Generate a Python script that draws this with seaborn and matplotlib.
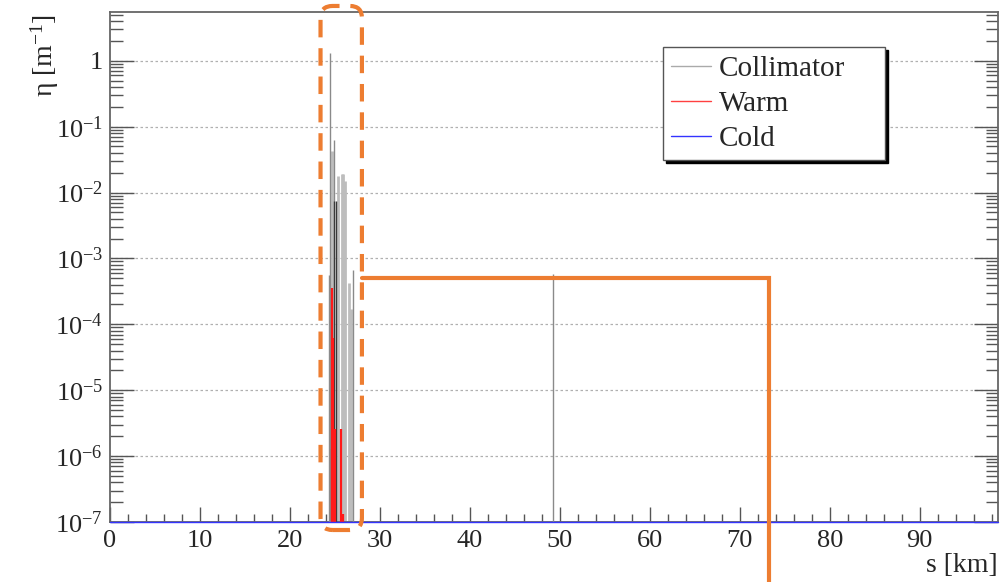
import numpy as np
import pandas as pd
import matplotlib
matplotlib.use("Agg")
import matplotlib.pyplot as plt
import seaborn as sns
from matplotlib.patches import FancyBboxPatch
from matplotlib.lines import Line2D
from matplotlib.ticker import FixedLocator, LogLocator, MultipleLocator, NullFormatter, FixedFormatter
from matplotlib.transforms import IdentityTransform

# ---------------- data ----------------
coll_light_s = [24.62, 25.39, 25.80, 25.95, 26.10, 26.53, 26.80]
coll_light_eta = [0.042, 0.018, 0.019, 0.019, 0.0148, 4.3e-4, 1.7e-4]
coll_mid_s = [24.37, 24.48, 24.92, 27.03, 49.26]
coll_mid_eta = [5.6e-4, 1.3, 0.062, 6.6e-4, 5.8e-4]
coll_dark_s = [24.95, 25.08]
coll_dark_eta = [0.0074, 0.0074]
warm_s = [24.65, 24.70, 24.75, 25.05, 25.70, 25.91]
warm_eta = [3.6e-4, 1.3e-6, 6.3e-5, 2.6e-6, 2.6e-6, 1.3e-7]
cold_s = [0.0, 98.7]
cold_eta = [1e-7, 1e-7]

x_ticks = [0, 10, 20, 30, 40, 50, 60, 70, 80, 90]
x_tick_labels = ["0", "10", "20", "30", "40", "50", "60", "70", "80", "90"]
y_ticks = [1e-7, 1e-6, 1e-5, 1e-4, 1e-3, 1e-2, 1e-1, 1]
y_tick_labels = ["10$^{-7}$", "10$^{-6}$", "10$^{-5}$", "10$^{-4}$",
                 "10$^{-3}$", "10$^{-2}$", "10$^{-1}$", "1"]
legend_labels = ["Collimator", "Warm", "Cold"]

# highlight annotation (km, eta)
hl_box_s = (23.4, 28.0)
hl_path_s = [28.0, 73.3, 73.3]
hl_path_eta = [5.0e-4, 5.0e-4, 1e-8]

# ---------------- style ----------------
sns.set_theme(style="ticks")
plt.rcParams["font.family"] = ["Liberation Serif", "DejaVu Serif"]
plt.rcParams["mathtext.fontset"] = "custom"
plt.rcParams["mathtext.rm"] = "Liberation Serif"
plt.rcParams["mathtext.it"] = "Liberation Serif:italic"
plt.rcParams["mathtext.bf"] = "Liberation Serif:bold"

ORANGE = "#ED7D31"

fig = plt.figure(figsize=(10, 5.82), dpi=100)
fig.patch.set_facecolor("white")
ax = fig.add_axes([0.110, 0.1031, 0.888, 0.8763])
ax.set_facecolor("white")
ax.set_yscale("log")
ax.set_xlim(0, 98.7)
ax.set_ylim(1e-7, 5.5)

# grid
ax.yaxis.grid(True, which="major", color="#b0b0b0", linestyle=(0, (2, 2)), linewidth=0.9)
ax.xaxis.grid(False)
ax.set_axisbelow(True)

# spikes
ax.vlines(coll_light_s, 1e-7, coll_light_eta, colors="#bdbdbd", linewidth=2.0, zorder=2)
ax.vlines(coll_mid_s, 1e-7, coll_mid_eta, colors="#8a8a8a", linewidth=1.0, zorder=3)
ax.vlines(coll_dark_s, 1e-7, coll_dark_eta, colors="#3a3a3a", linewidth=1.0, zorder=3)
ax.vlines(warm_s, 1e-7, warm_eta, colors="#ff1a1a", linewidth=1.6, zorder=4)

sns.lineplot(x=cold_s, y=cold_eta, color="#3333ff", linewidth=1.0, ax=ax,
             legend=False, zorder=5, clip_on=False)

# ticks
ax.xaxis.set_major_locator(FixedLocator(x_ticks))
ax.xaxis.set_major_formatter(FixedFormatter(x_tick_labels))
ax.xaxis.set_minor_locator(MultipleLocator(2))
ax.yaxis.set_major_locator(FixedLocator(y_ticks))
ax.yaxis.set_major_formatter(FixedFormatter(y_tick_labels))
ax.yaxis.set_minor_locator(LogLocator(base=10, subs=np.arange(2, 10), numticks=20))
ax.yaxis.set_minor_formatter(NullFormatter())

ax.tick_params(axis="x", which="major", direction="in", length=11, width=1,
               color="#555555", labelsize=19, pad=6, top=False, bottom=True)
ax.tick_params(axis="x", which="minor", direction="in", length=5.5, width=1,
               color="#555555", top=False, bottom=True)
ax.tick_params(axis="y", which="major", direction="in", length=17, width=1,
               color="#555555", labelsize=19, pad=5, left=True, right=True)
ax.tick_params(axis="y", which="minor", direction="in", length=9, width=1,
               color="#555555", left=True, right=True)

for side in ["left", "right", "top", "bottom"]:
    ax.spines[side].set_color("#666666")
    ax.spines[side].set_linewidth(1.3)

# legend
handles = [Line2D([], [], color="#aaaaaa", lw=1),
           Line2D([], [], color="#ff4040", lw=1),
           Line2D([], [], color="#3333ff", lw=1)]
leg_w = 222 / 888
leg_h = 108 / 510
leg = ax.legend(handles, legend_labels, loc="upper left",
                bbox_to_anchor=(0.6228, 0.931 - leg_h, leg_w, leg_h), mode="expand",
                borderaxespad=0,
                fontsize=21, frameon=True, fancybox=False, framealpha=1,
                edgecolor="#555555", handlelength=1.35, handletextpad=0.28,
                labelspacing=0.3, borderpad=0.28,
                shadow={"facecolor": "black", "edgecolor": "black", "alpha": 1})
leg.get_frame().set_linewidth(1.0)
leg.set_zorder(10)

# axis labels
fig.text(0.045, 1 - 14 / 582, "η [m$^{-1}$]", rotation=90, ha="center", va="top",
         fontsize=20)
fig.text(0.998, 1 - 566 / 582, "s [km]", ha="right", va="center", fontsize=20)

# highlight annotations
ax.plot(hl_path_s, hl_path_eta, color=ORANGE, linewidth=3.0, clip_on=False,
        zorder=8, solid_joinstyle="miter")
xt = ax.get_xaxis_transform()
p0 = xt.transform((hl_box_s[0], -0.0157))
p1 = xt.transform((hl_box_s[1], 1.0118))
box = FancyBboxPatch((p0[0], p0[1]), p1[0] - p0[0], p1[1] - p0[1],
                     boxstyle="round,pad=0,rounding_size=12",
                     transform=IdentityTransform(), fill=False,
                     edgecolor=ORANGE, linewidth=3.0,
                     linestyle=(0, (4.2, 2.6)), clip_on=False, zorder=9)
ax.add_patch(box)

fig.savefig("out.png", dpi=100)
